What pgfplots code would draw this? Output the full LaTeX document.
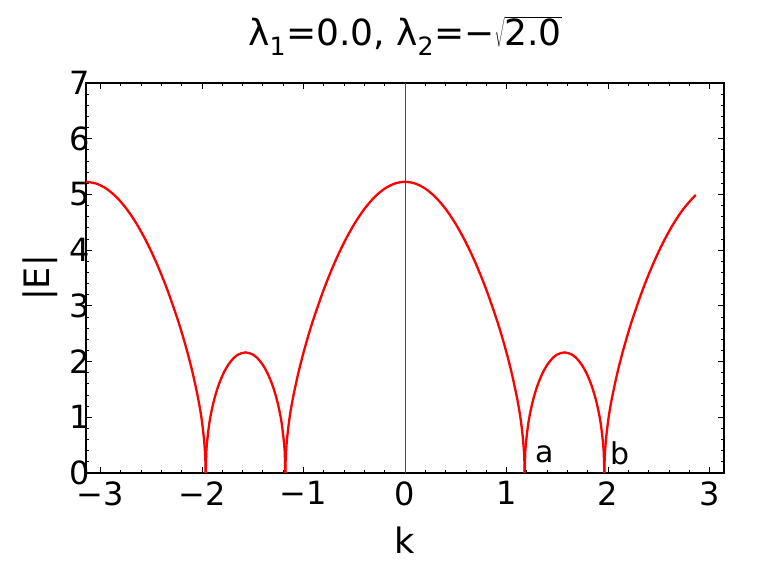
\documentclass[border=0pt]{standalone}
\usepackage{pgfplots}
\pgfplotsset{compat=1.18}
\usepackage{fontspec}
\setmainfont{DejaVu Sans}

\begin{document}
\begin{tikzpicture}
\begin{axis}[
  scale only axis, width=638pt, height=390pt,
  xmin=-3.14159, xmax=3.14159, ymin=0, ymax=7,
  xtick={-3,-2,-1,0,1,2,3}, xticklabels={−3,−2,−1,0,1,2,3},
  ytick={0,1,2,3,4,5,6,7},
  minor x tick num=4, minor y tick num=4,
  tick align=inside, tick pos=both,
  xticklabel pos=bottom, yticklabel pos=left,
  major tick length=6pt, minor tick length=3pt,
  every tick/.style={black, line width=0.8pt},
  axis line style={line width=1.2pt},
  /pgf/number format/assume math mode=true,
  tick label style={font=\fontsize{32}{34}\selectfont},
  y tick label style={xshift=7pt},
  x tick label style={yshift=-5pt},
  extra x ticks={0}, extra x tick labels={},
  extra x tick style={grid=major, major grid style={gray!60!black, line width=0.6pt}, major tick length=0pt},
  title={λ\textsubscript{1}=0.0, λ\textsubscript{2}=−$\sqrt{\mbox{2.0}}$},
  title style={font=\fontsize{36}{38}\selectfont, at={(axis description cs:0.5,1.105)}, anchor=center},
  xlabel={k}, ylabel={|E|},
  label style={font=\fontsize{35}{37}\selectfont},
  xlabel style={at={(axis description cs:0.5,-0.172)}, anchor=center},
  ylabel style={at={(axis description cs:-0.072,0.5)}, anchor=center},
]
\addplot[red, line width=2.3pt, smooth] coordinates {
(-3.1416,5.2263) (-3.0416,5.1957) (-2.9416,5.1040) (-2.8416,4.9517) (-2.7416,4.7393)
(-2.6416,4.4675) (-2.5416,4.1366) (-2.4416,3.7461) (-2.3416,3.2934) (-2.2416,2.7710)
(-2.1916,2.4781) (-2.1416,2.1576) (-2.0916,1.7989) (-2.0416,1.3775) (-2.0116,1.0744)
(-1.9916,0.8083) (-1.9766,0.547) (-1.9666,0.266) (-1.9635,0)};
\addplot[red, line width=2.3pt, smooth] coordinates {
(-1.9635,0) (-1.9566,0.394) (-1.9516,0.516) (-1.9316,0.836) (-1.9116,1.0545)
(-1.8816,1.3016) (-1.8416,1.5482) (-1.7916,1.7754) (-1.7416,1.9394) (-1.6916,2.0548)
(-1.6416,2.1275) (-1.5708,2.1648) (-1.5,2.1275) (-1.45,2.0548) (-1.4,1.9394)
(-1.35,1.7754) (-1.3,1.5482) (-1.26,1.3016) (-1.23,1.0545) (-1.21,0.836)
(-1.19,0.516) (-1.185,0.394) (-1.1781,0)};
\addplot[red, line width=2.3pt, smooth] coordinates {
(-1.1781,0) (-1.175,0.266) (-1.165,0.547) (-1.15,0.8083) (-1.13,1.0744)
(-1.1,1.3775) (-1.05,1.7989) (-1.0,2.1576) (-0.95,2.4781) (-0.9,2.7710)
(-0.8,3.2934) (-0.7,3.7461) (-0.6,4.1366) (-0.5,4.4675) (-0.4,4.7393)
(-0.3,4.9517) (-0.2,5.1040) (-0.1,5.1957) (0,5.2263)
(0.1,5.1957) (0.2,5.1040) (0.3,4.9517) (0.4,4.7393) (0.5,4.4675)
(0.6,4.1366) (0.7,3.7461) (0.8,3.2934) (0.9,2.7710) (0.95,2.4781)
(1.0,2.1576) (1.05,1.7989) (1.1,1.3775) (1.13,1.0744) (1.15,0.8083)
(1.165,0.547) (1.175,0.266) (1.1781,0)};
\addplot[red, line width=2.3pt, smooth] coordinates {
(1.1781,0) (1.185,0.394) (1.19,0.516) (1.21,0.836) (1.23,1.0545)
(1.26,1.3016) (1.3,1.5482) (1.35,1.7754) (1.4,1.9394) (1.45,2.0548)
(1.5,2.1275) (1.5708,2.1648) (1.6416,2.1275) (1.6916,2.0548) (1.7416,1.9394)
(1.7916,1.7754) (1.8416,1.5482) (1.8816,1.3016) (1.9116,1.0545) (1.9316,0.836)
(1.9516,0.516) (1.9566,0.394) (1.9635,0)};
\addplot[red, line width=2.3pt, smooth] coordinates {
(1.9635,0) (1.9666,0.266) (1.9766,0.547) (1.9916,0.8083) (2.0116,1.0744)
(2.0416,1.3775) (2.0916,1.7989) (2.1416,2.1576) (2.1916,2.4781) (2.2416,2.7710)
(2.3416,3.2934) (2.4416,3.7461) (2.5416,4.1366) (2.6416,4.4675) (2.7416,4.7393)
(2.8416,4.9517) (2.864,4.9909)};
\node[font=\fontsize{30}{32}\selectfont] at (axis cs:1.38,0.33) {a};
\node[font=\fontsize{30}{32}\selectfont] at (axis cs:2.12,0.35) {b};
\coordinate (SW) at (rel axis cs:0,0);
\end{axis}
\path[use as bounding box] (SW) ++(-86pt,-92pt) rectangle ++(766pt,565pt);
\end{tikzpicture}
\end{document}
